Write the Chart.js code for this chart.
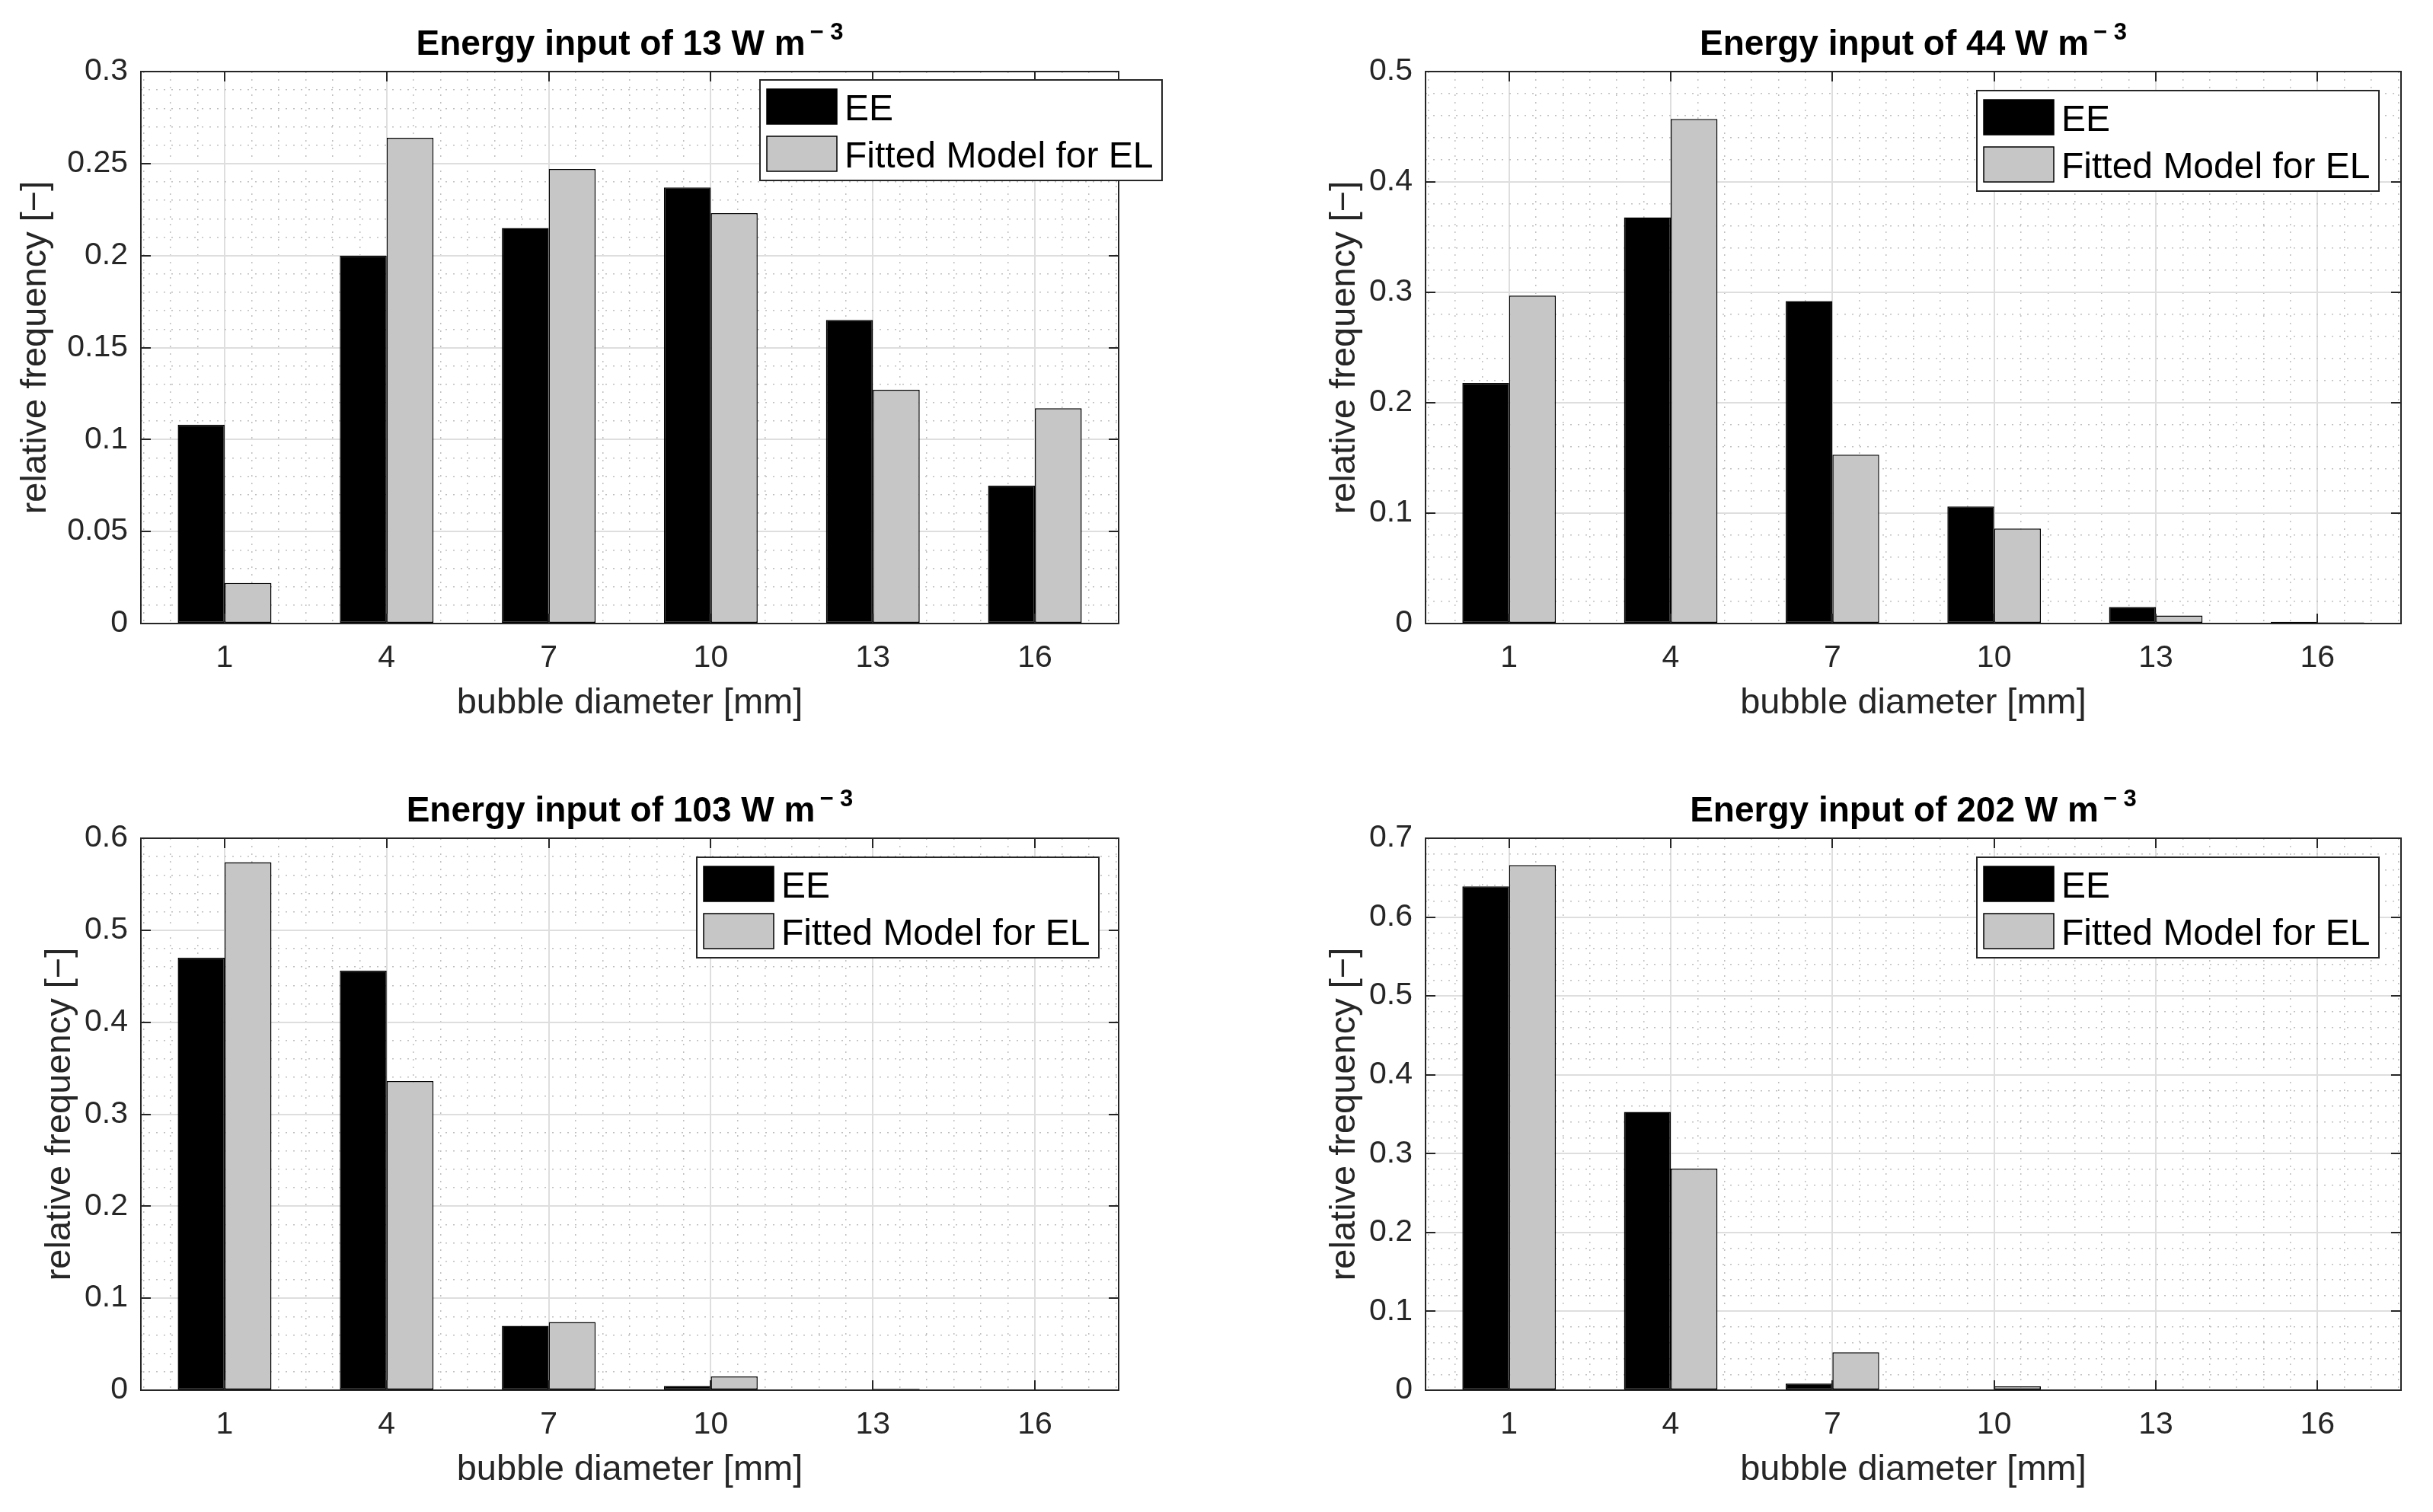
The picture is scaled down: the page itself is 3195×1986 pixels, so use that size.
<!DOCTYPE html>
<html>
<head>
<meta charset="utf-8">
<script src="https://cdn.jsdelivr.net/npm/chart.js@4.4.1/dist/chart.umd.min.js"></script>
<style>
html,body{margin:0;padding:0;background:#fff;width:3195px;height:1986px;overflow:hidden}
canvas{position:absolute}
</style>
</head>
<body>
<canvas id="c0" width="1640" height="993" style="left:0px;top:0px;width:1640px;height:993px"></canvas>
<canvas id="c1" width="1508" height="993" style="left:1687px;top:0px;width:1508px;height:993px"></canvas>
<canvas id="c2" width="1640" height="993" style="left:0px;top:993px;width:1640px;height:993px"></canvas>
<canvas id="c3" width="1508" height="993" style="left:1687px;top:993px;width:1508px;height:993px"></canvas>
<script>
// ---------------- data ----------------
const diameters = [1, 4, 7, 10, 13, 16];
const xTickLabels = ['1', '4', '7', '10', '13', '16'];
const seriesLabels = ['EE', 'Fitted Model for EL'];
const energies = [13, 44, 103, 202];

const ee13  = [0.108, 0.200, 0.215, 0.237, 0.165, 0.075];
const fit13 = [0.022, 0.264, 0.247, 0.223, 0.127, 0.117];

const ee44  = [0.218, 0.368, 0.292, 0.106, 0.015, 0.0015];
const fit44 = [0.297, 0.457, 0.153, 0.086, 0.0073, 0.001];

const ee103  = [0.470, 0.456, 0.070, 0.0045, 0.0003, 0.0];
const fit103 = [0.574, 0.336, 0.074, 0.0150, 0.0015, 0.0004];

const ee202  = [0.639, 0.353, 0.0085, 0.0003, 0.0, 0.0];
const fit202 = [0.666, 0.281, 0.048, 0.0048, 0.0004, 0.0];

const yTicks13  = ['0', '0.05', '0.1', '0.15', '0.2', '0.25', '0.3'];
const yTicks44  = ['0', '0.1', '0.2', '0.3', '0.4', '0.5'];
const yTicks103 = ['0', '0.1', '0.2', '0.3', '0.4', '0.5', '0.6'];
const yTicks202 = ['0', '0.1', '0.2', '0.3', '0.4', '0.5', '0.6', '0.7'];

const xTitle = 'bubble diameter [mm]';
const yTitle = 'relative frequency [\u2212]';
const titleSup = '\u2212 3';

// ---------------- styles ----------------
const FONT = '"Liberation Sans", Arial, Helvetica, sans-serif';
const AX = '#262626';
const MAJOR = '#dedede';
const MINOR = '#bfbfbf';
const CLEAR = 'rgba(0,0,0,0)';

const panels = [
  {id: 'c0', ee: ee13,  fit: fit13,  yTicks: yTicks13,  minorDiv: 5, pad: {left: 0, top: 94,  right: 171, bottom: 14}, yTitlePad: 19, leg: {dx: 57,  dy: 11}},
  {id: 'c1', ee: ee44,  fit: fit44,  yTicks: yTicks44,  minorDiv: 5, pad: {left: 0, top: 94,  right: 42,  bottom: 14}, yTitlePad: 51, leg: {dx: -29, dy: 25}},
  {id: 'c2', ee: ee103, fit: fit103, yTicks: yTicks103, minorDiv: 5, pad: {left: 0, top: 108, right: 171, bottom: 0},  yTitlePad: 51, leg: {dx: -26, dy: 25}},
  {id: 'c3', ee: ee202, fit: fit202, yTicks: yTicks202, minorDiv: 5, pad: {left: 0, top: 108, right: 42,  bottom: 0},  yTitlePad: 51, leg: {dx: -29, dy: 25}}
];

// ---------------- plugins ----------------
const boxPlugin = {
  id: 'matlabBox',
  afterDatasetsDraw(chart) {
    const {ctx, chartArea: a, scales} = chart;
    const tl = 13;
    ctx.save();
    ctx.strokeStyle = AX;
    ctx.lineWidth = 2;
    ctx.beginPath();
    scales.x.ticks.forEach(t => {
      const px = Math.round(scales.x.getPixelForValue(t.value));
      ctx.moveTo(px, a.bottom); ctx.lineTo(px, a.bottom - tl);
      ctx.moveTo(px, a.top); ctx.lineTo(px, a.top + tl);
    });
    scales.y.ticks.forEach(t => {
      const py = Math.round(scales.y.getPixelForValue(t.value));
      ctx.moveTo(a.left, py); ctx.lineTo(a.left + tl, py);
      ctx.moveTo(a.right, py); ctx.lineTo(a.right - tl, py);
    });
    ctx.stroke();
    ctx.strokeRect(Math.round(a.left), Math.round(a.top), Math.round(a.right - a.left), Math.round(a.bottom - a.top));
    ctx.restore();
  }
};

const legendPlugin = {
  id: 'boxLegend',
  afterDraw(chart, args, opts) {
    const {ctx, chartArea: a} = chart;
    const W = 528, H = 132;
    const x0 = Math.round(a.right + opts.dx - W);
    const y0 = Math.round(a.top + opts.dy);
    ctx.save();
    ctx.fillStyle = '#ffffff';
    ctx.fillRect(x0, y0, W, H);
    ctx.strokeStyle = AX;
    ctx.lineWidth = 2;
    ctx.strokeRect(x0, y0, W, H);
    ctx.font = `48px ${FONT}`;
    ctx.textAlign = 'left';
    ctx.textBaseline = 'alphabetic';
    chart.data.datasets.forEach((ds, i) => {
      const sy = y0 + 12 + i * 62;
      ctx.fillStyle = ds.backgroundColor;
      ctx.fillRect(x0 + 9, sy, 92, 46);
      ctx.strokeStyle = '#000';
      ctx.lineWidth = 1.5;
      ctx.strokeRect(x0 + 9, sy, 92, 46);
      ctx.fillStyle = '#000';
      ctx.fillText(ds.label, x0 + 111, y0 + 53 + i * 62);
    });
    ctx.restore();
  }
};

const titlePlugin = {
  id: 'supTitle',
  afterDraw(chart, args, opts) {
    const {ctx, chartArea: a} = chart;
    ctx.save();
    const mainFont = `bold 46px ${FONT}`;
    const supFont = `bold 31px ${FONT}`;
    ctx.font = mainFont;
    const wm = ctx.measureText(opts.text).width;
    ctx.font = supFont;
    const ws = ctx.measureText(opts.sup).width;
    const gap = 6;
    const x0 = (a.left + a.right) / 2 - (wm + gap + ws) / 2;
    const yb = a.top - 22;
    ctx.fillStyle = '#000';
    ctx.textAlign = 'left';
    ctx.textBaseline = 'alphabetic';
    ctx.font = mainFont;
    ctx.fillText(opts.text, x0, yb);
    ctx.font = supFont;
    ctx.fillText(opts.sup, x0 + wm + gap, yb - 20);
    ctx.restore();
  }
};

// ---------------- charts ----------------
const xMin = -0.55, xMax = 17.55, xMinorStep = 0.5;

panels.forEach((p, k) => {
  const yMax = parseFloat(p.yTicks[p.yTicks.length - 1]);
  const yStep = parseFloat(p.yTicks[1]);
  const yMinorStep = yStep / p.minorDiv;
  const isMajorX = v => diameters.some(d => Math.abs(d - v) < 1e-6);
  const isMajorY = v => Math.abs(v / yStep - Math.round(v / yStep)) < 1e-6;

  new Chart(document.getElementById(p.id), {
    type: 'bar',
    data: {
      datasets: [
        {label: seriesLabels[0], data: diameters.map((d, i) => ({x: d, y: p.ee[i]})),
         backgroundColor: '#000000', borderColor: '#000000', borderWidth: 1.5, borderSkipped: false,
         xAxisID: 'x', yAxisID: 'y', categoryPercentage: 0.578, barPercentage: 1.0},
        {label: seriesLabels[1], data: diameters.map((d, i) => ({x: d, y: p.fit[i]})),
         backgroundColor: '#c6c6c6', borderColor: '#000000', borderWidth: 1.5, borderSkipped: false,
         xAxisID: 'x', yAxisID: 'y', categoryPercentage: 0.578, barPercentage: 1.0}
      ]
    },
    options: {
      responsive: false,
      animation: false,
      events: [],
      layout: {padding: p.pad},
      plugins: {
        legend: {display: false},
        title: {display: false},
        tooltip: {enabled: false},
        supTitle: {text: `Energy input of ${energies[k]} W m`, sup: titleSup},
        boxLegend: p.leg
      },
      scales: {
        x: {
          type: 'linear', axis: 'x', position: 'bottom', min: xMin, max: xMax, offset: false,
          afterBuildTicks: s => { s.ticks = diameters.map(v => ({value: v})); },
          afterFit: s => { s.height = 160; },
          ticks: {autoSkip: false, maxRotation: 0, padding: 21, color: AX,
                  font: {family: FONT, size: 41},
                  callback: (v, i) => xTickLabels[i]},
          grid: {color: MAJOR, lineWidth: 2, drawTicks: false, offset: false},
          border: {display: false},
          title: {display: true, text: xTitle, color: AX, font: {family: FONT, size: 47},
                  padding: {top: 0, bottom: 27}}
        },
        xm: {
          type: 'linear', axis: 'x', position: 'top', min: xMin, max: xMax, offset: false,
          afterFit: s => { s.height = 0; },
          ticks: {display: false, stepSize: xMinorStep, includeBounds: false, autoSkip: false},
          grid: {drawTicks: false, offset: false, lineWidth: 1.5, color: c => (c.tick && isMajorX(c.tick.value)) ? CLEAR : MINOR},
          border: {display: false, dash: [2, 8]}
        },
        y: {
          type: 'linear', axis: 'y', position: 'left', min: 0, max: yMax,
          afterFit: s => { s.width = 185; },
          ticks: {stepSize: yStep, autoSkip: false, padding: 17, color: AX,
                  font: {family: FONT, size: 41},
                  callback: (v) => {
                    const idx = Math.round(v / yStep);
                    return p.yTicks[idx] !== undefined ? p.yTicks[idx] : '';
                  }},
          grid: {color: MAJOR, lineWidth: 2, drawTicks: false},
          border: {display: false},
          title: {display: true, text: yTitle, color: AX, font: {family: FONT, size: 47},
                  padding: {top: p.yTitlePad, bottom: 0}}
        },
        ym: {
          type: 'linear', axis: 'y', position: 'right', min: 0, max: yMax,
          afterFit: s => { s.width = 0; },
          ticks: {display: false, stepSize: yMinorStep, autoSkip: false},
          grid: {drawTicks: false, lineWidth: 1.5, color: c => (c.tick && isMajorY(c.tick.value)) ? CLEAR : MINOR},
          border: {display: false, dash: [2, 8]}
        }
      }
    },
    plugins: [boxPlugin, titlePlugin, legendPlugin]
  });
});
</script>
</body>
</html>
